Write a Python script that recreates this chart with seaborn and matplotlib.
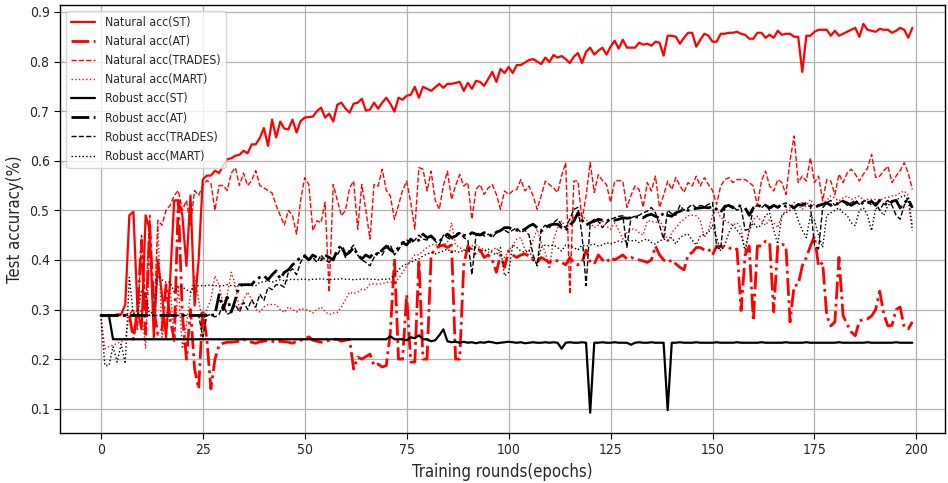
import numpy as np
import seaborn as sns
import matplotlib.pyplot as plt

epochs = np.arange(200)

# natural accuracy
nat_st = [
    .288, .288, .288, .288, .290, .290, .310, .490, .497, .300,
    .260, .490, .460, .244, .400, .330, .244, .360, .520, .520,
    .490, .388, .530, .308, .400, .562, .570, .570, .580, .575,
    .590, .603, .605, .610, .612, .620, .615, .633, .633, .646,
    .666, .630, .683, .647, .679, .665, .663, .683, .657, .680,
    .687, .688, .689, .700, .707, .687, .695, .679, .713, .717,
    .705, .697, .715, .717, .725, .701, .703, .717, .705, .717,
    .727, .715, .699, .727, .723, .731, .733, .749, .727, .749,
    .745, .741, .748, .755, .747, .755, .755, .757, .759, .741,
    .757, .745, .761, .759, .751, .765, .779, .759, .785, .777,
    .789, .777, .793, .793, .798, .803, .805, .800, .795, .808,
    .799, .813, .808, .811, .805, .797, .810, .817, .797, .820,
    .828, .814, .822, .828, .814, .830, .842, .826, .844, .828,
    .828, .828, .838, .834, .836, .832, .840, .838, .812, .852,
    .852, .850, .836, .848, .858, .858, .830, .844, .856, .852,
    .840, .840, .856, .856, .858, .858, .860, .856, .854, .846,
    .846, .858, .858, .848, .854, .848, .862, .854, .856, .856,
    .850, .850, .779, .852, .852, .860, .864, .864, .864, .852,
    .862, .852, .856, .860, .864, .868, .850, .876, .864, .862,
    .860, .866, .864, .864, .858, .862, .868, .864, .848, .868,
]
nat_at = [
    .288, .288, .288, .288, .288, .288, .288, .290, .240, .300,
    .440, .250, .470, .300, .250, .260, .350, .280, .240, .520,
    .290, .200, .300, .180, .140, .300, .240, .140, .200, .228,
    .232, .234, .234, .235, .236, .240, .236, .234, .232, .235,
    .236, .238, .236, .234, .236, .235, .234, .232, .236, .238,
    .240, .245, .238, .236, .234, .235, .238, .240, .240, .236,
    .238, .240, .180, .204, .200, .205, .210, .187, .190, .184,
    .187, .254, .402, .200, .200, .330, .194, .194, .400, .200,
    .200, .410, .422, .428, .430, .425, .430, .200, .200, .390,
    .428, .420, .410, .420, .405, .410, .400, .375, .410, .385,
    .418, .410, .405, .410, .412, .408, .400, .395, .405, .400,
    .395, .400, .398, .395, .390, .405, .395, .390, .395, .420,
    .395, .392, .410, .400, .395, .405, .400, .405, .410, .402,
    .405, .402, .400, .398, .395, .400, .428, .410, .400, .395,
    .400, .392, .385, .380, .410, .415, .425, .425, .420, .422,
    .410, .428, .428, .425, .425, .420, .422, .298, .410, .428,
    .277, .428, .428, .438, .435, .295, .430, .432, .428, .275,
    .348, .350, .388, .405, .428, .448, .387, .395, .287, .267,
    .275, .405, .288, .270, .255, .247, .277, .280, .281, .287,
    .300, .337, .290, .267, .268, .300, .305, .264, .261, .275,
]
nat_trades = [
    .288, .288, .288, .288, .290, .290, .290, .290, .300, .260,
    .450, .300, .490, .260, .480, .470, .500, .510, .530, .540,
    .500, .520, .470, .540, .530, .550, .560, .555, .500, .550,
    .550, .540, .575, .586, .550, .575, .550, .560, .580, .550,
    .545, .540, .535, .510, .490, .470, .500, .490, .452, .520,
    .566, .552, .459, .479, .475, .516, .335, .552, .520, .489,
    .500, .545, .559, .462, .552, .500, .442, .552, .549, .583,
    .540, .529, .482, .510, .540, .559, .516, .462, .586, .583,
    .539, .579, .520, .502, .550, .579, .522, .550, .572, .549,
    .556, .482, .542, .552, .532, .545, .552, .532, .502, .539,
    .532, .539, .542, .562, .539, .549, .529, .502, .530, .559,
    .552, .545, .536, .570, .596, .331, .559, .559, .480, .530,
    .596, .536, .572, .560, .552, .516, .559, .560, .559, .506,
    .530, .549, .542, .506, .556, .539, .569, .506, .530, .559,
    .542, .566, .550, .536, .556, .549, .569, .549, .566, .552,
    .540, .512, .549, .562, .566, .556, .562, .562, .562, .556,
    .549, .509, .560, .579, .549, .539, .562, .556, .532, .600,
    .650, .556, .569, .559, .606, .556, .569, .519, .562, .559,
    .532, .573, .556, .575, .583, .573, .559, .573, .585, .613,
    .566, .569, .580, .589, .556, .569, .580, .596, .575, .542,
]
nat_mart = [
    .288, .221, .225, .228, .232, .235, .241, .288, .288, .290,
    .300, .221, .450, .280, .470, .244, .280, .350, .235, .348,
    .221, .270, .330, .368, .320, .270, .300, .320, .368, .350,
    .310, .330, .375, .350, .300, .320, .335, .320, .300, .295,
    .305, .310, .310, .310, .300, .294, .305, .300, .295, .302,
    .300, .298, .293, .300, .305, .296, .290, .293, .294, .305,
    .320, .335, .332, .335, .341, .340, .351, .352, .351, .352,
    .355, .355, .356, .362, .375, .388, .400, .410, .410, .418,
    .425, .430, .432, .425, .430, .435, .475, .430, .425, .420,
    .418, .428, .430, .425, .420, .415, .420, .425, .410, .405,
    .418, .430, .442, .445, .420, .418, .440, .462, .435, .415,
    .382, .440, .465, .479, .465, .470, .489, .485, .490, .480,
    .475, .465, .470, .479, .468, .462, .475, .460, .442, .455,
    .462, .462, .455, .450, .479, .478, .475, .480, .465, .435,
    .455, .465, .475, .482, .489, .490, .489, .480, .445, .460,
    .490, .502, .485, .480, .475, .470, .475, .465, .415, .460,
    .482, .488, .478, .470, .482, .475, .465, .490, .500, .505,
    .516, .510, .502, .510, .522, .510, .506, .515, .520, .529,
    .525, .519, .525, .529, .522, .525, .529, .520, .522, .522,
    .522, .520, .525, .526, .529, .530, .535, .539, .530, .469,
]

# robust accuracy
rob_st = [.288, .288, .288] + [.240] * 68 + [
    .246, .240, .240, .240, .238, .244, .242, .248, .240,
    .240, .236, .238, .248, .260, .236, .234, .235, .233, .235,
    .233, .234, .232, .234, .233, .235, .234, .232, .233, .234,
    .235, .234, .233, .234, .232, .233, .234, .233, .233, .234,
    .233, .234, .233, .221, .233, .234, .233, .233, .234, .233,
    .092, .233, .233, .234, .233, .233, .234, .233, .233, .233,
    .229, .233, .234, .233, .233, .234, .233, .233, .233, .097,
    .233, .233, .234, .233, .233, .233, .234, .233, .233, .233,
    .233, .234, .233, .233, .233, .233, .234, .233, .233, .233,
    .233, .233, .234, .233, .233, .233, .233, .233, .234, .233,
    .233, .233, .233, .234, .233, .233, .233, .233, .233, .233,
    .233, .234, .233, .233, .233, .233, .233, .233, .234, .233,
    .233, .233, .233, .233, .233, .234, .233, .233, .233, .233,
]
rob_at = [.288] * 28 + [
    .290, .330,
    .300, .325, .295, .320, .350, .350, .350, .350, .360, .365,
    .368, .360, .370, .378, .362, .375, .380, .390, .398, .405,
    .408, .400, .410, .405, .400, .410, .405, .400, .420, .430,
    .410, .415, .425, .410, .402, .410, .405, .415, .410, .420,
    .428, .420, .415, .425, .435, .430, .442, .435, .440, .452,
    .445, .448, .440, .437, .445, .452, .445, .448, .455, .450,
    .448, .455, .452, .450, .455, .452, .448, .456, .459, .465,
    .465, .462, .460, .458, .462, .468, .472, .465, .458, .465,
    .470, .472, .472, .465, .460, .470, .478, .495, .480, .470,
    .475, .478, .482, .480, .478, .482, .480, .482, .485, .484,
    .485, .487, .486, .485, .490, .492, .488, .484, .495, .490,
    .488, .495, .498, .502, .500, .502, .504, .505, .506, .505,
    .508, .502, .496, .508, .510, .505, .510, .508, .505, .490,
    .505, .510, .508, .510, .505, .510, .506, .512, .508, .510,
    .505, .512, .510, .515, .510, .505, .510, .512, .515, .510,
    .515, .512, .518, .515, .510, .515, .520, .512, .515, .518,
    .510, .520, .515, .510, .518, .520, .505, .515, .522, .505,
]
rob_trades = [.288] * 25 + [
    .245, .288, .290, .285, .290,
    .310, .290, .295, .310, .295, .315, .300, .320, .305, .331,
    .318, .345, .340, .350, .350, .345, .375, .382, .370, .395,
    .410, .400, .405, .395, .410, .400, .395, .405, .410, .425,
    .405, .420, .430, .410, .400, .395, .388, .405, .415, .410,
    .425, .430, .410, .420, .435, .440, .435, .440, .450, .442,
    .440, .450, .438, .430, .450, .445, .440, .452, .455, .445,
    .440, .370, .450, .455, .448, .452, .445, .455, .460, .460,
    .455, .460, .465, .455, .460, .450, .410, .388, .462, .470,
    .465, .475, .482, .470, .465, .482, .502, .506, .450, .348,
    .475, .482, .478, .465, .475, .482, .485, .488, .489, .425,
    .485, .488, .490, .495, .498, .506, .495, .470, .442, .500,
    .493, .490, .510, .500, .505, .512, .505, .510, .508, .512,
    .516, .425, .422, .505, .510, .508, .500, .505, .460, .462,
    .505, .510, .505, .512, .500, .510, .505, .512, .515, .510,
    .505, .510, .515, .510, .508, .430, .422, .505, .515, .520,
    .510, .515, .520, .510, .515, .520, .512, .518, .520, .510,
    .515, .500, .515, .520, .510, .490, .482, .510, .525, .505,
]
rob_mart = [
    .288, .187, .187, .225, .194, .230, .191, .365, .288, .288,
    .340, .330, .288, .300, .368, .360, .355, .355, .335, .348,
    .345, .340, .335, .348, .348, .348, .348, .350, .348, .348,
    .348, .350, .348, .348, .347, .348, .350, .348, .348, .355,
    .356, .358, .355, .358, .360, .358, .360, .361, .360, .361,
    .361, .360, .361, .361, .362, .361, .360, .361, .361, .362,
    .361, .361, .360, .361, .361, .362, .361, .361, .360, .361,
    .361, .362, .370, .380, .388, .392, .395, .400, .402, .408,
    .412, .415, .412, .415, .418, .422, .415, .418, .415, .420,
    .418, .422, .425, .420, .418, .422, .415, .410, .425, .368,
    .375, .430, .425, .418, .415, .420, .400, .392, .425, .430,
    .428, .430, .425, .418, .430, .428, .425, .420, .430, .428,
    .430, .432, .428, .430, .435, .432, .435, .438, .436, .440,
    .438, .440, .435, .440, .442, .435, .432, .438, .442, .440,
    .445, .432, .445, .450, .452, .440, .430, .448, .452, .455,
    .470, .445, .418, .430, .455, .470, .460, .450, .420, .460,
    .475, .465, .470, .490, .495, .460, .432, .490, .495, .500,
    .505, .480, .460, .445, .490, .480, .450, .425, .490, .495,
    .500, .505, .495, .490, .475, .469, .500, .505, .490, .459,
    .505, .500, .490, .510, .515, .520, .526, .530, .520, .459,
]

series = [
    ("Natural acc(ST)", nat_st, "red", "-", 1.6),
    ("Natural acc(AT)", nat_at, "red", "-.", 2.0),
    ("Natural acc(TRADES)", nat_trades, "red", "--", 1.0),
    ("Natural acc(MART)", nat_mart, "red", ":", 1.0),
    ("Robust acc(ST)", rob_st, "black", "-", 1.6),
    ("Robust acc(AT)", rob_at, "black", "-.", 2.0),
    ("Robust acc(TRADES)", rob_trades, "black", "--", 1.0),
    ("Robust acc(MART)", rob_mart, "black", ":", 1.0),
]

sns.set_style("white")
plt.rcParams['font.family'] = ['DejaVu Sans']
plt.rcParams['font.stretch'] = 'condensed'

fig, ax = plt.subplots(figsize=(9.48, 4.83), dpi=100)
fig.subplots_adjust(left=60 / 948, right=945 / 948, bottom=50 / 483, top=478 / 483)

for label, vals, color, ls, lw in series:
    sns.lineplot(x=epochs, y=vals, color=color, linestyle=ls, linewidth=lw,
                 label=label, ax=ax)

ax.set_xlim(-10, 207)
ax.set_ylim(0.051, 0.914)
ax.set_xticks([0, 25, 50, 75, 100, 125, 150, 175, 200])
ax.set_yticks([0.1, 0.2, 0.3, 0.4, 0.5, 0.6, 0.7, 0.8, 0.9])
ax.grid(True, color="#b0b0b0", linewidth=0.9)
for s in ax.spines.values():
    s.set_color("black")
    s.set_linewidth(1.0)
ax.tick_params(axis="both", labelsize=10, length=4, color="black", direction="out",
               bottom=True, left=True)
ax.set_xlabel("Training rounds(epochs)", fontsize=12)
ax.set_ylabel("Test accuracy(%)", fontsize=12)
ax.legend(loc="upper left", fontsize=8.8, framealpha=0.8)

fig.savefig("out.png", dpi=100)
